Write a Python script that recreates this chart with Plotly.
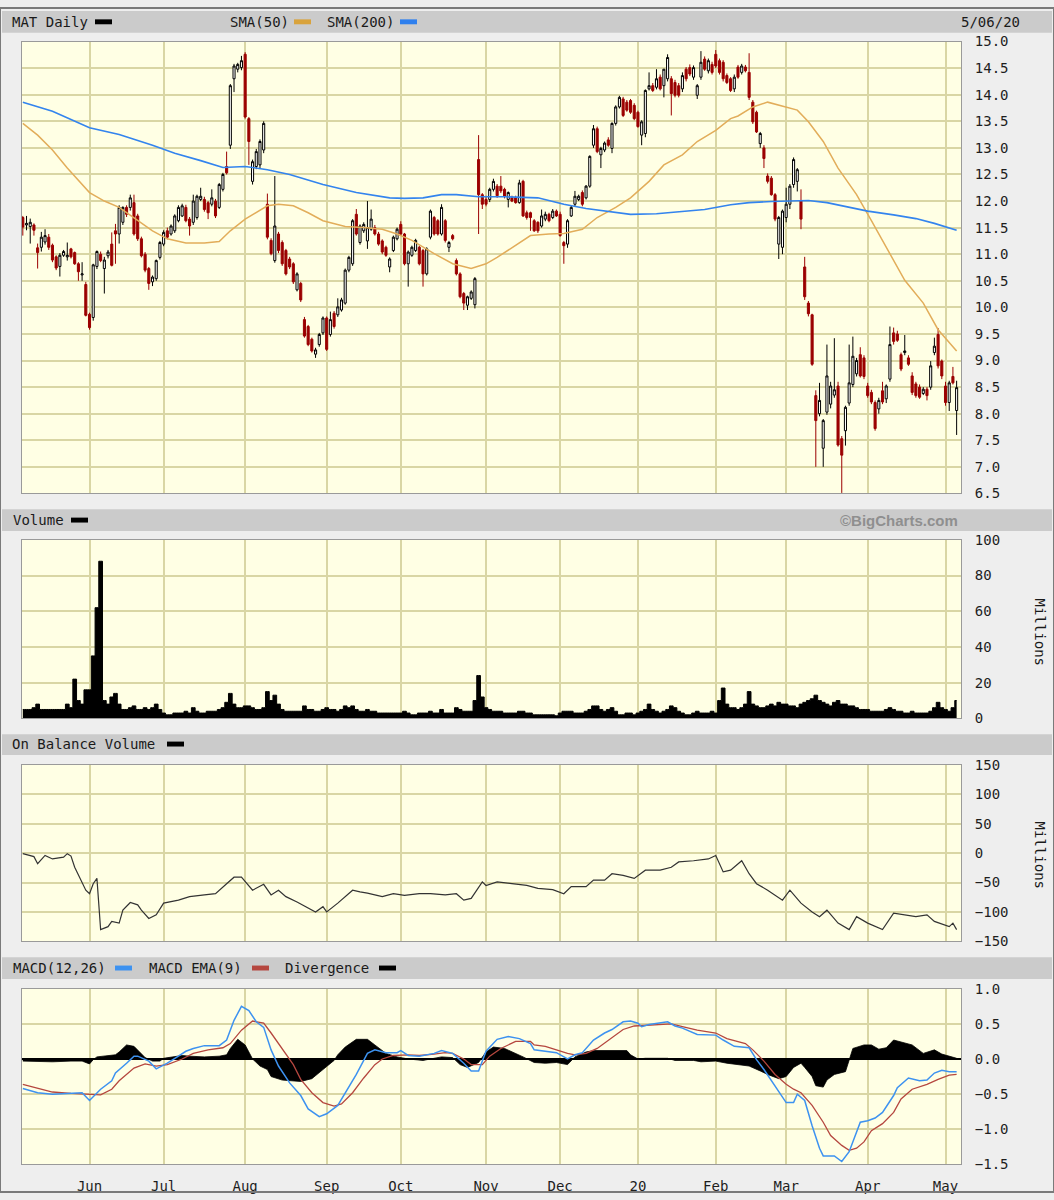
import pandas as pd
import plotly.graph_objects as go

W, H = 1054, 1200

# ---------------- trading calendar ----------------
holidays = ["2019-05-27", "2019-07-04", "2019-09-02", "2019-11-28", "2019-12-25",
            "2020-01-01", "2020-01-20", "2020-02-17", "2020-04-10"]
dates = pd.bdate_range("2019-05-07", "2020-05-06", freq="C", holidays=holidays)

# ---------------- daily prices (MAT) ----------------
opens = [
    # May 2019
    11.69, 11.55, 11.52, 11.55, 11.12, 11.13, 11.23, 11.32, 11.17, 10.95, 10.77, 10.98, 10.95, 11.10, 11.03, 10.82, 10.61, 10.43,
    # Jun
    9.87, 9.81, 10.77, 11.00, 10.73, 10.97, 11.19, 11.44, 11.38, 11.60, 11.88, 11.88, 11.97, 11.72, 11.29, 11.00, 10.73, 10.48, 10.54, 10.94,
    # Jul
    11.19, 11.44, 11.38, 11.44, 11.63, 11.72, 11.88, 11.66, 11.60, 11.69, 12.03, 12.03, 11.97, 11.94, 12.00, 11.88, 12.22, 12.65, 13.05, 14.30, 14.48, 14.51,
    # Aug
    14.76, 13.55, 12.37, 12.65, 12.68, 12.96, 11.94, 11.26, 10.88, 11.38, 11.22, 11.07, 10.91, 10.82, 10.33, 10.45, 9.77, 9.64, 9.40, 9.12, 9.30, 9.52,
    # Sep
    9.80, 9.49, 9.89, 9.86, 9.95, 10.08, 10.70, 10.82, 11.75, 11.22, 11.44, 11.25, 11.47, 11.50, 11.38, 11.25, 11.13, 10.76, 11.07, 11.29,
    # Oct
    11.56, 11.38, 10.82, 10.98, 11.07, 11.13, 11.07, 10.63, 11.32, 11.69, 11.63, 11.38, 11.63, 11.13, 11.35, 10.88, 10.63, 10.26, 10.04, 10.17, 10.05, 12.78, 12.12,
    # Nov
    12.03, 12.03, 12.22, 12.28, 12.28, 12.22, 12.03, 12.06, 12.06, 11.97, 12.37, 11.78, 11.78, 11.63, 11.60, 11.53, 11.66, 11.75, 11.69, 11.81,
    # Dec
    11.75, 11.22, 11.19, 11.72, 11.94, 12.03, 12.16, 12.06, 12.28, 13.05, 13.36, 12.87, 12.96, 13.15, 12.99, 13.46, 13.77, 13.92, 13.86, 13.89, 13.80,
    # Jan 2020
    13.67, 13.24, 13.27, 14.11, 14.17, 14.14, 14.33, 14.17, 14.30, 14.30, 14.23, 14.17, 14.11, 14.48, 14.51, 14.33, 13.99, 14.33, 14.67, 14.45, 14.57,
    # Feb
    14.76, 14.64, 14.61, 14.36, 14.30, 14.11, 14.52, 14.42, 14.52, 14.42, 13.86, 13.67, 13.08, 13.00, 12.47, 12.43, 12.12, 11.19, 11.13,
    # Mar
    11.69, 11.94, 12.31, 12.37, 12.00, 10.76, 10.08, 9.86, 8.34, 8.00, 7.35, 8.03, 8.18, 8.35, 8.52, 7.53, 7.68, 8.20, 8.55, 8.75, 9.11, 9.05,
    # Apr
    8.52, 8.40, 8.21, 8.09, 8.43, 8.28, 8.65, 9.52, 9.50, 9.11, 9.15, 9.05, 8.71, 8.56, 8.50, 8.38, 8.46, 8.50, 9.15, 9.49, 8.99,
    # May
    8.52, 8.21, 8.70, 8.06,
]
highs = [
    11.72, 11.72, 11.67, 11.58, 11.20, 11.42, 11.47, 11.38, 11.20, 10.98, 11.02, 11.08, 11.22, 11.12, 11.05, 10.85, 10.85, 10.48,
    9.90, 10.82, 11.07, 11.05, 10.95, 11.08, 11.41, 11.57, 11.92, 11.90, 11.92, 12.12, 12.12, 11.76, 11.33, 11.04, 10.76, 10.60, 10.90, 11.25,
    11.45, 11.50, 11.56, 11.75, 11.92, 11.95, 11.93, 11.70, 12.12, 12.12, 12.25, 12.08, 12.00, 12.22, 12.04, 12.34, 12.53, 12.93, 14.20, 14.58, 14.60, 14.73,
    14.80, 13.58, 12.78, 12.98, 13.16, 13.50, 12.14, 11.30, 12.47, 11.42, 11.26, 11.10, 10.95, 10.85, 10.66, 10.48, 9.82, 9.67, 9.43, 9.24, 9.52, 9.83,
    9.83, 9.92, 9.93, 10.17, 10.18, 10.73, 10.97, 11.66, 11.85, 11.56, 11.60, 12.00, 11.84, 11.55, 11.42, 11.28, 11.16, 10.94, 11.35, 11.50,
    11.62, 11.40, 11.07, 11.16, 11.29, 11.16, 11.10, 11.13, 11.84, 11.72, 11.66, 11.94, 11.66, 11.25, 11.38, 10.92, 10.66, 10.29, 10.22, 10.32, 10.57, 13.24, 12.15,
    12.10, 12.25, 12.42, 12.32, 12.47, 12.25, 12.18, 12.10, 12.10, 12.40, 12.40, 11.82, 11.80, 11.66, 11.62, 11.84, 11.80, 11.78, 11.85, 11.84,
    11.80, 11.25, 11.66, 11.92, 12.19, 12.12, 12.20, 12.30, 12.86, 13.43, 13.40, 13.02, 13.12, 13.20, 13.48, 13.80, 13.98, 13.96, 13.90, 13.92, 13.84,
    13.70, 13.52, 14.10, 14.42, 14.22, 14.48, 14.38, 14.48, 14.76, 14.35, 14.28, 14.22, 14.42, 14.52, 14.57, 14.55, 14.20, 14.82, 14.72, 14.68, 14.62,
    14.84, 14.68, 14.65, 14.40, 14.33, 14.38, 14.56, 14.58, 14.56, 14.78, 13.90, 13.70, 13.30, 13.05, 12.52, 12.47, 12.15, 11.72, 11.84,
    12.25, 12.32, 12.82, 12.62, 12.22, 10.95, 10.12, 9.88, 8.44, 8.58, 7.90, 9.30, 8.60, 9.42, 8.60, 7.58, 8.15, 9.30, 9.45, 9.05, 9.25, 9.10,
    8.58, 8.45, 8.25, 8.30, 8.60, 8.55, 9.64, 9.62, 9.56, 9.15, 9.48, 9.10, 8.78, 8.60, 8.55, 8.50, 8.50, 8.99, 9.43, 9.61, 9.02,
    8.60, 8.62, 8.88, 8.62,
]
lows = [
    11.35, 11.45, 11.20, 11.35, 10.73, 11.05, 11.18, 11.08, 10.85, 10.70, 10.58, 10.95, 10.88, 10.92, 10.80, 10.50, 10.50, 9.83,
    9.58, 9.75, 10.72, 10.85, 10.26, 10.92, 10.77, 10.82, 11.20, 11.55, 11.70, 11.82, 11.35, 11.25, 10.94, 10.66, 10.33, 10.40, 10.50, 10.90,
    11.15, 11.28, 11.35, 11.40, 11.60, 11.70, 11.60, 11.35, 11.55, 11.65, 12.00, 11.80, 11.66, 11.90, 11.68, 11.85, 12.18, 12.50, 12.98, 14.05, 14.42, 14.46,
    13.55, 12.68, 12.31, 12.60, 12.62, 12.90, 11.28, 10.98, 10.84, 11.02, 10.78, 10.60, 10.72, 10.44, 10.30, 10.10, 9.43, 9.27, 9.15, 9.05, 9.26, 9.48,
    9.18, 9.45, 9.60, 9.82, 9.92, 10.05, 10.66, 10.78, 11.35, 11.18, 11.40, 11.10, 11.44, 11.35, 11.16, 11.00, 10.95, 10.66, 11.04, 11.26,
    11.35, 10.79, 10.39, 10.95, 11.04, 10.79, 10.39, 10.60, 11.28, 11.35, 11.35, 11.35, 11.22, 11.04, 11.26, 10.60, 10.17, 9.95, 9.95, 10.14, 9.98, 11.38, 11.85,
    11.90, 11.98, 12.18, 12.06, 12.15, 12.05, 11.88, 11.98, 11.95, 11.95, 11.70, 11.65, 11.44, 11.42, 11.40, 11.50, 11.62, 11.60, 11.66, 11.70,
    11.33, 10.82, 11.12, 11.70, 11.90, 12.00, 11.90, 12.03, 12.25, 13.00, 12.90, 12.62, 12.92, 13.02, 12.90, 13.42, 13.74, 13.58, 13.68, 13.64, 13.52,
    13.38, 13.05, 13.20, 14.08, 14.05, 14.10, 14.08, 13.95, 14.25, 13.61, 13.95, 13.95, 14.05, 14.25, 14.35, 14.28, 13.92, 14.28, 14.45, 14.40, 14.38,
    14.50, 14.38, 14.25, 14.20, 14.05, 14.05, 14.30, 14.38, 14.42, 13.90, 13.45, 13.28, 13.00, 12.62, 12.33, 12.10, 11.62, 10.91, 11.00,
    11.60, 11.85, 12.25, 12.18, 11.47, 10.14, 9.83, 8.90, 7.00, 7.95, 7.00, 7.98, 8.10, 8.30, 7.38, 6.51, 7.40, 8.15, 8.50, 8.70, 8.68, 8.65,
    8.30, 8.18, 7.68, 8.00, 8.18, 8.20, 8.60, 9.30, 9.35, 8.80, 9.10, 8.90, 8.35, 8.30, 8.28, 8.35, 8.25, 8.45, 9.10, 8.85, 8.65,
    8.15, 8.05, 8.55, 7.60,
]
closes = [
    11.51, 11.58, 11.60, 11.45, 11.03, 11.32, 11.35, 11.13, 10.89, 10.74, 10.98, 11.05, 10.98, 10.95, 10.82, 10.67, 10.63, 9.85,
    9.62, 10.80, 11.05, 10.88, 10.89, 11.04, 10.79, 11.38, 11.88, 11.88, 11.75, 12.06, 11.38, 11.29, 10.97, 10.70, 10.45, 10.57, 10.88, 11.22,
    11.41, 11.32, 11.53, 11.72, 11.88, 11.91, 11.63, 11.53, 12.00, 12.09, 12.09, 11.84, 11.78, 12.06, 11.72, 12.31, 12.50, 12.53, 14.17, 14.54, 14.57, 14.64,
    13.58, 13.12, 12.74, 12.93, 13.12, 13.46, 11.32, 11.01, 11.53, 11.07, 10.82, 10.63, 10.76, 10.48, 10.63, 10.14, 9.46, 9.30, 9.18, 9.20, 9.49, 9.80,
    9.21, 9.77, 9.64, 10.01, 10.14, 10.70, 10.94, 11.63, 11.38, 11.53, 11.56, 11.50, 11.66, 11.38, 11.19, 11.04, 10.98, 10.91, 11.32, 11.47,
    11.38, 10.82, 11.04, 11.13, 11.26, 10.82, 10.63, 11.10, 11.81, 11.38, 11.38, 11.88, 11.26, 11.22, 11.29, 10.63, 10.20, 10.08, 10.20, 10.29, 10.54, 12.12, 11.94,
    11.94, 12.22, 12.37, 12.10, 12.19, 12.09, 12.16, 12.00, 11.97, 12.34, 11.72, 11.69, 11.69, 11.44, 11.44, 11.72, 11.75, 11.63, 11.81, 11.72,
    11.35, 11.16, 11.63, 11.88, 12.09, 12.09, 11.94, 12.28, 12.84, 13.36, 12.93, 12.99, 13.09, 13.05, 13.46, 13.77, 13.95, 13.61, 13.71, 13.67, 13.55,
    13.40, 13.49, 14.08, 14.17, 14.08, 14.30, 14.11, 14.48, 14.70, 14.02, 13.99, 13.99, 14.36, 14.30, 14.39, 14.51, 14.17, 14.61, 14.48, 14.64, 14.42,
    14.54, 14.42, 14.30, 14.23, 14.08, 14.33, 14.33, 14.54, 14.45, 13.95, 13.49, 13.30, 13.27, 12.80, 12.37, 12.12, 11.66, 11.69, 11.81,
    11.94, 12.28, 12.78, 12.59, 11.66, 10.20, 9.88, 8.93, 7.87, 8.25, 7.87, 8.71, 8.52, 8.45, 7.41, 7.22, 8.12, 8.58, 9.08, 9.00, 8.71, 8.70,
    8.34, 8.22, 7.72, 8.25, 8.22, 8.52, 9.30, 9.36, 9.38, 8.84, 9.18, 8.93, 8.40, 8.34, 8.31, 8.46, 8.34, 8.90, 9.27, 8.90, 8.71,
    8.21, 8.58, 8.58, 8.49,
]

# daily volume, millions
volume = [
    5, 5, 5, 6, 8, 5, 5, 5, 5, 5, 5, 5, 8, 6, 22, 10, 8, 16,
    16, 35, 62, 88, 10, 8, 12, 14, 8, 5, 5, 6, 7, 5, 5, 6, 5, 6, 8, 5,
    3, 2, 2, 3, 3, 3, 4, 3, 6, 4, 3, 3, 4, 4, 4, 5, 6, 9, 14, 8, 6, 6,
    7, 7, 6, 5, 5, 6, 15, 10, 13, 8, 5, 4, 4, 4, 4, 4, 7, 5, 5, 4, 4, 5,
    6, 5, 5, 4, 5, 7, 6, 7, 5, 4, 4, 5, 4, 4, 3, 3, 3, 3, 3, 3,
    3, 4, 3, 2, 2, 3, 3, 3, 4, 3, 3, 5, 3, 3, 3, 6, 5, 4, 4, 4, 10, 24, 12,
    6, 5, 4, 4, 4, 3, 3, 3, 3, 4, 4, 3, 3, 2, 2, 2, 2, 2, 2, 1.5,
    3, 4, 4, 4, 3, 3, 3, 4, 5, 7, 7, 5, 4, 5, 6, 4, 2, 2, 3, 3, 2,
    3, 4, 5, 8, 5, 4, 3, 4, 5, 7, 6, 4, 3, 2, 2, 3, 4, 3, 3, 3, 4,
    3, 10, 17, 8, 6, 6, 5, 6, 8, 15, 8, 7, 6, 6, 7, 8, 7, 9, 8,
    8, 7, 7, 6, 8, 9, 10, 11, 13, 10, 9, 8, 7, 9, 10, 8, 8, 7, 7, 6, 5, 5,
    5, 4, 4, 4, 4, 5, 6, 5, 4, 4, 3, 3, 4, 3, 3, 3, 3, 4, 6, 9, 6,
    5, 4, 6, 10,
]

# ---------------- indicator readings (session number, value) ----------------
sma50_day = [0, 4, 8, 12, 18, 22, 26, 30, 35, 39, 44, 49, 53, 56, 60, 66, 69, 73, 77, 81, 87, 92, 97, 101,
             105, 111, 116, 121, 125, 128, 133, 137, 142, 146, 151, 155, 160, 164, 169, 173, 178, 182, 187,
             191, 193, 197, 201, 206, 209, 212, 216, 220, 225, 229, 234, 238, 243, 247, 252]
sma50_val = [13.46, 13.24, 12.96, 12.62, 12.16, 12.00, 11.88, 11.69, 11.44, 11.29, 11.21, 11.21, 11.24, 11.44,
             11.66, 11.91, 11.94, 11.91, 11.78, 11.63, 11.52, 11.50, 11.47, 11.38, 11.26, 11.01, 10.82, 10.73,
             10.82, 10.94, 11.16, 11.35, 11.38, 11.39, 11.47, 11.69, 11.88, 12.06, 12.37, 12.68, 12.87, 13.12,
             13.33, 13.55, 13.60, 13.77, 13.86, 13.77, 13.71, 13.49, 13.12, 12.62, 12.12, 11.63, 11.01, 10.51,
             10.08, 9.58, 9.18]

sma200_day = [0, 8, 18, 26, 35, 41, 48, 54, 60, 66, 72, 81, 90, 99, 103, 108, 113, 117, 123, 130, 139, 146,
              152, 158, 164, 171, 177, 184, 191, 196, 202, 207, 212, 217, 223, 228, 235, 241, 246, 252]
sma200_val = [13.86, 13.69, 13.38, 13.25, 13.05, 12.90, 12.76, 12.63, 12.65, 12.59, 12.50, 12.31, 12.16, 12.06,
              12.05, 12.06, 12.12, 12.12, 12.08, 12.08, 12.06, 11.94, 11.86, 11.80, 11.75, 11.76, 11.80, 11.84,
              11.93, 11.97, 11.99, 12.00, 12.01, 11.97, 11.88, 11.81, 11.74, 11.67, 11.58, 11.45]

obv_day = [0, 3, 4, 6, 8, 11, 12, 13, 14, 15, 17, 18, 19, 20, 21, 23, 24, 26, 27, 29, 31, 32, 34, 36, 38, 42,
           45, 49, 52, 55, 57, 59, 61, 62, 65, 67, 69, 71, 74, 77, 79, 81, 82, 85, 89, 91, 93, 97, 100, 103,
           107, 110, 114, 117, 119, 121, 123, 124, 125, 128, 132, 136, 139, 143, 146, 148, 152, 154, 157, 159,
           162, 165, 168, 172, 175, 177, 181, 185, 187, 189, 191, 194, 196, 198, 201, 205, 207, 210, 213, 215,
           217, 220, 223, 225, 228, 232, 235, 238, 241, 244, 246, 250, 251, 252]
obv_val = [-1, -6, -18, -4, -10, -7, -1, -5, -24, -38, -63, -69, -52, -43, -130, -125, -116, -119, -97, -84,
           -88, -97, -111, -105, -85, -80, -74, -71, -69, -52, -41, -41, -55, -63, -53, -71, -63, -74, -83, -94,
           -100, -91, -100, -85, -63, -66, -68, -74, -69, -72, -69, -69, -71, -69, -80, -77, -57, -49, -55, -49,
           -52, -55, -60, -62, -69, -57, -57, -46, -46, -35, -38, -43, -29, -29, -24, -15, -13, -10, -4, -32,
           -29, -13, -35, -52, -63, -80, -63, -85, -100, -108, -97, -119, -130, -108, -119, -130, -102, -105,
           -108, -105, -116, -125, -119, -130]

macd_day = [0, 4, 8, 13, 16, 18, 21, 24, 25, 28, 30, 31, 34, 36, 39, 42, 44, 46, 49, 53, 55, 57, 59, 61, 63,
            65, 67, 69, 72, 75, 77, 80, 82, 85, 87, 90, 93, 95, 98, 101, 102, 104, 107, 111, 113, 116, 119,
            121, 123, 125, 128, 131, 134, 137, 138, 141, 144, 147, 149, 151, 154, 157, 159, 162, 164, 166,
            167, 169, 172, 174, 176, 178, 182, 187, 189, 192, 196, 198, 200, 203, 206, 208, 209, 211, 213,
            215, 216, 219, 221, 223, 225, 226, 228, 230, 232, 235, 236, 239, 242, 244, 246, 248, 250, 252]
macd_val = [-0.42, -0.48, -0.50, -0.49, -0.48, -0.59, -0.43, -0.31, -0.20, -0.06, 0.04, 0.04, -0.03, -0.14,
            -0.06, 0.04, 0.11, 0.15, 0.19, 0.19, 0.27, 0.55, 0.75, 0.69, 0.53, 0.45, 0.13, -0.10, -0.34, -0.52,
            -0.71, -0.82, -0.78, -0.66, -0.48, -0.22, 0.08, 0.13, 0.09, 0.09, 0.12, 0.05, 0.04, 0.08, 0.12,
            0.08, -0.06, -0.17, -0.17, 0.11, 0.28, 0.32, 0.29, 0.22, 0.13, 0.11, 0.09, 0.00, 0.06, 0.09, 0.27,
            0.37, 0.42, 0.53, 0.54, 0.51, 0.46, 0.49, 0.51, 0.53, 0.47, 0.44, 0.35, 0.34, 0.27, 0.18, 0.16,
            -0.01, -0.15, -0.38, -0.62, -0.62, -0.50, -0.59, -0.95, -1.27, -1.38, -1.38, -1.46, -1.32, -1.04,
            -0.90, -0.88, -0.84, -0.76, -0.52, -0.41, -0.27, -0.31, -0.30, -0.20, -0.16, -0.18, -0.18]

ema_day = [0, 4, 8, 13, 17, 21, 24, 26, 30, 33, 36, 39, 43, 46, 50, 54, 56, 59, 62, 65, 67, 70, 73, 75, 78,
           81, 84, 86, 89, 92, 95, 97, 100, 104, 107, 111, 114, 116, 119, 121, 124, 126, 129, 133, 137, 138,
           141, 144, 147, 149, 152, 155, 158, 162, 165, 168, 172, 175, 178, 182, 187, 190, 195, 197, 200, 203,
           206, 208, 210, 213, 216, 218, 221, 223, 225, 227, 229, 232, 235, 237, 240, 244, 247, 250, 252]
ema_val = [-0.36, -0.42, -0.47, -0.49, -0.50, -0.51, -0.43, -0.31, -0.13, -0.07, -0.10, -0.08, 0.00, 0.08,
           0.13, 0.16, 0.22, 0.41, 0.54, 0.51, 0.37, 0.15, -0.08, -0.29, -0.48, -0.62, -0.67, -0.64, -0.48,
           -0.27, -0.08, 0.00, 0.05, 0.06, 0.05, 0.07, 0.09, 0.08, 0.00, -0.08, -0.08, 0.04, 0.15, 0.25, 0.25,
           0.20, 0.18, 0.13, 0.08, 0.06, 0.08, 0.15, 0.27, 0.42, 0.47, 0.48, 0.50, 0.50, 0.46, 0.41, 0.37,
           0.29, 0.22, 0.13, -0.03, -0.22, -0.36, -0.43, -0.48, -0.66, -0.90, -1.09, -1.23, -1.30, -1.27,
           -1.18, -1.02, -0.92, -0.76, -0.57, -0.43, -0.36, -0.29, -0.23, -0.22]

div_day = [0, 4, 8, 13, 16, 18, 19, 20, 22, 25, 26, 28, 30, 31, 33, 35, 37, 38, 40, 43, 45, 49, 53, 55, 56,
           58, 60, 62, 64, 66, 67, 70, 75, 78, 81, 84, 85, 87, 90, 93, 95, 98, 101, 104, 108, 113, 116, 118,
           120, 123, 125, 127, 130, 133, 135, 138, 141, 144, 147, 149, 152, 154, 158, 163, 164, 166, 168,
           174, 176, 181, 183, 187, 190, 194, 196, 199, 201, 204, 206, 208, 210, 211, 213, 214, 216, 217,
           219, 222, 223, 224, 227, 229, 231, 233, 235, 237, 240, 243, 246, 248, 251, 252]
div_val = [-0.03, -0.04, -0.04, -0.03, -0.03, -0.07, -0.01, 0.03, 0.04, 0.06, 0.10, 0.20, 0.18, 0.13, 0.02,
           -0.03, -0.03, 0.01, 0.03, 0.05, 0.04, 0.03, 0.04, 0.06, 0.15, 0.28, 0.20, 0.00, -0.10, -0.15, -0.25,
           -0.30, -0.32, -0.28, -0.15, -0.02, 0.06, 0.17, 0.28, 0.28, 0.20, 0.08, 0.03, 0.00, -0.02, 0.03,
           0.02, -0.08, -0.12, -0.05, 0.10, 0.17, 0.15, 0.08, 0.03, -0.05, -0.06, -0.05, -0.08, 0.03, 0.10,
           0.12, 0.12, 0.12, 0.06, 0.00, 0.01, 0.01, -0.02, -0.02, -0.04, -0.03, -0.06, -0.08, -0.10, -0.17,
           -0.22, -0.28, -0.25, -0.12, -0.06, -0.12, -0.25, -0.38, -0.40, -0.30, -0.22, -0.18, -0.02, 0.15,
           0.20, 0.20, 0.14, 0.16, 0.27, 0.24, 0.20, 0.08, 0.13, 0.07, 0.03, 0.01]

# ---------------- derived axis helpers ----------------
N = len(dates)
n = min(N, len(opens), len(highs), len(lows), len(closes), len(volume))
day = list(range(n))
month_ticks, month_labels = [], []
for i in range(1, N):
    if dates[i].month != dates[i - 1].month:
        month_ticks.append(i)
        month_labels.append(dates[i].strftime("%y") if dates[i].month == 1 else dates[i].strftime("%b"))

FONT = "DejaVu Sans Mono"
GRID = "#d9d6a4"
PLOT_BG = "#ffffe4"
XR = [-0.22, 253.18]
XD = [22 / W, 961 / W]


def py(y):
    return 1 - y / H


fig = go.Figure()

fig.add_trace(go.Candlestick(
    x=day, open=opens[:n], high=highs[:n], low=lows[:n], close=closes[:n],
    increasing=dict(line=dict(color="#000000", width=1), fillcolor="#ffffff"),
    decreasing=dict(line=dict(color="#9b0000", width=1), fillcolor="#9b0000"),
    whiskerwidth=0, xaxis="x", yaxis="y", hoverinfo="skip"))
fig.add_trace(go.Scatter(x=sma50_day, y=sma50_val, mode="lines", line=dict(color="#e2ad5a", width=1.5),
                         xaxis="x", yaxis="y", hoverinfo="skip"))
fig.add_trace(go.Scatter(x=sma200_day, y=sma200_val, mode="lines", line=dict(color="#3384ee", width=1.6),
                         xaxis="x", yaxis="y", hoverinfo="skip"))

fig.add_trace(go.Scatter(x=day, y=volume[:n], mode="lines", line_shape="hvh", fill="tozeroy",
                         fillcolor="#000000", line=dict(color="#000000", width=1),
                         xaxis="x2", yaxis="y2", hoverinfo="skip"))

fig.add_trace(go.Scatter(x=obv_day, y=obv_val, mode="lines", line=dict(color="#333333", width=1.2),
                         xaxis="x3", yaxis="y3", hoverinfo="skip"))

fig.add_trace(go.Scatter(x=div_day, y=div_val, mode="lines", fill="tozeroy", fillcolor="#000000",
                         line=dict(color="#000000", width=0.8), xaxis="x4", yaxis="y4", hoverinfo="skip"))
fig.add_trace(go.Scatter(x=ema_day, y=ema_val, mode="lines", line=dict(color="#b5473f", width=1.3),
                         xaxis="x4", yaxis="y4", hoverinfo="skip"))
fig.add_trace(go.Scatter(x=macd_day, y=macd_val, mode="lines", line=dict(color="#3d92f0", width=1.5),
                         xaxis="x4", yaxis="y4", hoverinfo="skip"))

tickfont = dict(family=FONT, size=14, color="#1e1e1e")


def xax(anchor, labels=False):
    return dict(range=XR, domain=XD, anchor=anchor, tickvals=month_ticks, ticktext=month_labels,
                showgrid=True, gridcolor=GRID, gridwidth=2, zeroline=False, showline=True,
                linecolor="#9a9a9a", linewidth=1, mirror=True, ticks="", showticklabels=labels,
                ticklabelstandoff=9, tickfont=tickfont, fixedrange=True, rangeslider=dict(visible=False))


def yax(anchor, dom, rng, dtick, fmt=None, zero=False):
    d = dict(domain=dom, range=rng, anchor=anchor, side="right", dtick=dtick, tick0=rng[0],
             showgrid=True, gridcolor=GRID, gridwidth=2, ticks="", ticklabelstandoff=10,
             tickfont=tickfont, showline=True, linecolor="#9a9a9a", linewidth=1, mirror=True,
             zeroline=zero, zerolinecolor="#000000", zerolinewidth=2, fixedrange=True)
    if fmt:
        d["tickformat"] = fmt
    return d


shapes = []
# outer frame
shapes.append(dict(type="rect", xref="paper", yref="paper", x0=0, x1=1, y0=0, y1=1,
                   line=dict(color="#7a7a7a", width=2), fillcolor="rgba(0,0,0,0)", layer="above"))
# header bars
for y0, y1 in [(3, 25), (508, 530), (736, 757), (962, 984)]:
    shapes.append(dict(type="rect", xref="paper", yref="paper", x0=2 / W, x1=1 - 2 / W,
                       y0=py(y1), y1=py(y0), fillcolor="#cbcbcb", line=dict(width=0), layer="below"))


def swatch(x0, yc, color):
    shapes.append(dict(type="rect", xref="paper", yref="paper", x0=x0 / W, x1=(x0 + 17) / W,
                       y0=py(yc + 2.5), y1=py(yc - 2.5), fillcolor=color, line=dict(width=0)))


ann = []


def label(x, y, text, anchor="left", font=None):
    ann.append(dict(xref="paper", yref="paper", x=x / W, y=py(y), text=text, showarrow=False,
                    xanchor=anchor, yanchor="middle", font=font or dict(family=FONT, size=14, color="#1a1a1a")))


label(10, 14, "MAT Daily")
swatch(95, 14, "#000000")
label(228, 14, "SMA(50)")
swatch(294, 14, "#d9a33c")
label(325, 14, "SMA(200)")
swatch(400, 14, "#2f80ee")
label(1022, 14, "5/06/20", anchor="right")

label(11, 519, "Volume")
swatch(71, 519, "#000000")
label(960, 519, "©BigCharts.com", anchor="right",
      font=dict(family="Liberation Sans", size=15, color="#8f8f8f", weight="bold"))

label(10, 746, "On Balance Volume")
swatch(167, 746, "#000000")

label(11, 973, "MACD(12,26)")
swatch(115, 973, "#3d92f0")
label(147, 973, "MACD EMA(9)")
swatch(252, 973, "#b5473f")
label(283, 973, "Divergence")
swatch(379, 973, "#000000")

for yc in (632, 858):
    ann.append(dict(xref="paper", yref="paper", x=1040 / W, y=py(yc), text="Millions", showarrow=False,
                    textangle=90, xanchor="center", yanchor="middle",
                    font=dict(family=FONT, size=14, color="#1a1a1a")))

fig.update_layout(
    width=W, height=H, margin=dict(l=0, r=0, t=0, b=0),
    paper_bgcolor="#eeeeee", plot_bgcolor=PLOT_BG, showlegend=False, boxgap=0.2,
    xaxis=xax("y"), xaxis2=xax("y2"), xaxis3=xax("y3"), xaxis4=xax("y4", labels=True),
    yaxis=yax("x", [py(492), py(34)], [6.5, 15.0], 0.5, ".1f"),
    yaxis2=yax("x2", [py(720), py(539)], [0, 100], 20),
    yaxis3=yax("x3", [py(946), py(767)], [-150, 150], 50),
    yaxis4=yax("x4", [py(1172), py(994)], [-1.5, 1.0], 0.5, ".1f", zero=True),
    shapes=shapes, annotations=ann,
)

fig.write_html("out.html", config={"displayModeBar": False},
               post_script="document.body.style.margin='0';document.body.style.overflow='hidden';")
